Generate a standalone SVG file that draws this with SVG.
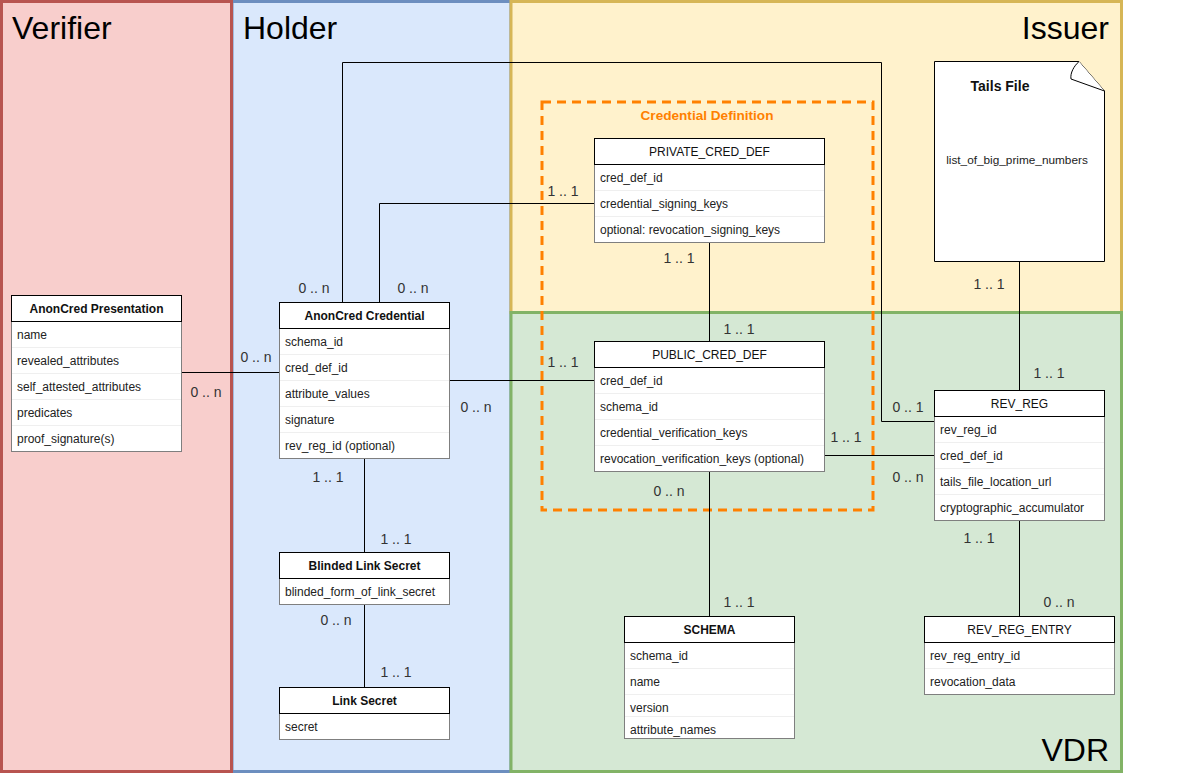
<svg xmlns="http://www.w3.org/2000/svg" width="1180" height="774" viewBox="0 0 1180 774">
<style>
text{font-family:"Liberation Sans",Arial,Helvetica,sans-serif}
.lt{font-size:32px;fill:#000}
.hdr{fill:#fff;stroke:#000;stroke-width:1}
.body{fill:#fff;stroke:#7f7f7f;stroke-width:1}
.sep{stroke:#efefef;stroke-width:1}
.ht{font-size:12px;font-weight:bold;fill:#111;text-anchor:middle}
.htn{font-size:12px;fill:#111;text-anchor:middle}
.rt{font-size:12px;fill:#222}
.conn{stroke:#000;stroke-width:1;fill:none}
.lbl{font-size:14px;fill:#333;text-anchor:middle}
</style>
<g id="lanes">
<rect x="232" y="1.5" width="279" height="770" fill="#dae8fc" stroke="#6c8ebf" stroke-width="3"/>
<rect x="1.5" y="1.5" width="230" height="770" fill="#f8cecc" stroke="#b85450" stroke-width="3"/>
<rect x="511" y="1.5" width="610.5" height="311" fill="#fff2cc" stroke="#d6b656" stroke-width="3"/>
<rect x="511" y="312.5" width="610.5" height="459" fill="#d5e8d4" stroke="#82b366" stroke-width="3"/>
<text class="lt" x="12" y="39">Verifier</text>
<text class="lt" x="243" y="39">Holder</text>
<text class="lt" x="1109" y="39" text-anchor="end">Issuer</text>
<text class="lt" x="1109" y="761" text-anchor="end">VDR</text>
</g>
<g id="credential-definition">
<rect x="542" y="102" width="331" height="408" fill="none" stroke="#ff8000" stroke-width="3" stroke-dasharray="9 6"/>
<text x="707" y="120" font-size="13.6" font-weight="bold" fill="#ff8000" text-anchor="middle">Credential Definition</text>
</g>
<g id="connectors">
<path class="conn" d="M181.5,372.5 H279.5"/>
<path class="conn" d="M342.5,302.5 V62.5 H881.5 V421.5 H934.5"/>
<path class="conn" d="M379.5,302.5 V203.5 H594.5"/>
<path class="conn" d="M449.5,380.5 H594.5"/>
<path class="conn" d="M709.5,242.5 V341.5"/>
<path class="conn" d="M824.5,455.5 H934.5"/>
<path class="conn" d="M709.5,471.5 V616.5"/>
<path class="conn" d="M1019.5,261.5 V390.5"/>
<path class="conn" d="M1019.5,520.5 V616.5"/>
<path class="conn" d="M364.5,458.5 V552.5"/>
<path class="conn" d="M364.5,604.5 V687.5"/>
<text class="lbl" x="314" y="293">0 .. n</text>
<text class="lbl" x="413" y="293">0 .. n</text>
<text class="lbl" x="256" y="362">0 .. n</text>
<text class="lbl" x="206" y="397">0 .. n</text>
<text class="lbl" x="563" y="196">1 .. 1</text>
<text class="lbl" x="679" y="263">1 .. 1</text>
<text class="lbl" x="739" y="334">1 .. 1</text>
<text class="lbl" x="563" y="367">1 .. 1</text>
<text class="lbl" x="846" y="442">1 .. 1</text>
<text class="lbl" x="669" y="496">0 .. n</text>
<text class="lbl" x="476" y="412">0 .. n</text>
<text class="lbl" x="908" y="412">0 .. 1</text>
<text class="lbl" x="908" y="482">0 .. n</text>
<text class="lbl" x="989" y="289">1 .. 1</text>
<text class="lbl" x="1049" y="378">1 .. 1</text>
<text class="lbl" x="979" y="543">1 .. 1</text>
<text class="lbl" x="1059" y="607">0 .. n</text>
<text class="lbl" x="739" y="607">1 .. 1</text>
<text class="lbl" x="328" y="482">1 .. 1</text>
<text class="lbl" x="396" y="544">1 .. 1</text>
<text class="lbl" x="336" y="625">0 .. n</text>
<text class="lbl" x="396" y="677">1 .. 1</text>
</g>
<g id="anoncred-presentation">
<rect class="body" x="11.5" y="321.5" width="170" height="130"/>
<line class="sep" x1="12" y1="347.5" x2="181" y2="347.5"/>
<line class="sep" x1="12" y1="373.5" x2="181" y2="373.5"/>
<line class="sep" x1="12" y1="399.5" x2="181" y2="399.5"/>
<line class="sep" x1="12" y1="425.5" x2="181" y2="425.5"/>
<rect class="hdr" x="11.5" y="295.5" width="170" height="26"/>
<text class="ht" x="96.5" y="313">AnonCred Presentation</text>
<text class="rt" x="17" y="339">name</text>
<text class="rt" x="17" y="365">revealed_attributes</text>
<text class="rt" x="17" y="391">self_attested_attributes</text>
<text class="rt" x="17" y="417">predicates</text>
<text class="rt" x="17" y="443">proof_signature(s)</text>
</g>
<g id="anoncred-credential">
<rect class="body" x="279.5" y="328.5" width="170" height="130"/>
<line class="sep" x1="280" y1="354.5" x2="449" y2="354.5"/>
<line class="sep" x1="280" y1="380.5" x2="449" y2="380.5"/>
<line class="sep" x1="280" y1="406.5" x2="449" y2="406.5"/>
<line class="sep" x1="280" y1="432.5" x2="449" y2="432.5"/>
<rect class="hdr" x="279.5" y="302.5" width="170" height="26"/>
<text class="ht" x="364.5" y="320">AnonCred Credential</text>
<text class="rt" x="285" y="346">schema_id</text>
<text class="rt" x="285" y="372">cred_def_id</text>
<text class="rt" x="285" y="398">attribute_values</text>
<text class="rt" x="285" y="424">signature</text>
<text class="rt" x="285" y="450">rev_reg_id (optional)</text>
</g>
<g id="private-cred-def">
<rect class="body" x="594.5" y="164.5" width="230" height="78"/>
<line class="sep" x1="595" y1="190.5" x2="824" y2="190.5"/>
<line class="sep" x1="595" y1="216.5" x2="824" y2="216.5"/>
<rect class="hdr" x="594.5" y="138.5" width="230" height="26"/>
<text class="htn" x="709.5" y="156">PRIVATE_CRED_DEF</text>
<text class="rt" x="600" y="182">cred_def_id</text>
<text class="rt" x="600" y="208">credential_signing_keys</text>
<text class="rt" x="600" y="234">optional: revocation_signing_keys</text>
</g>
<g id="public-cred-def">
<rect class="body" x="594.5" y="367.5" width="230" height="104"/>
<line class="sep" x1="595" y1="393.5" x2="824" y2="393.5"/>
<line class="sep" x1="595" y1="419.5" x2="824" y2="419.5"/>
<line class="sep" x1="595" y1="445.5" x2="824" y2="445.5"/>
<rect class="hdr" x="594.5" y="341.5" width="230" height="26"/>
<text class="htn" x="709.5" y="359">PUBLIC_CRED_DEF</text>
<text class="rt" x="600" y="385">cred_def_id</text>
<text class="rt" x="600" y="411">schema_id</text>
<text class="rt" x="600" y="437">credential_verification_keys</text>
<text class="rt" x="600" y="463">revocation_verification_keys (optional)</text>
</g>
<g id="tails-file">
<path d="M934.5,61.5 H1079 L1104.5,91 V261.5 H934.5 Z" fill="#fff" stroke="#000" stroke-width="1"/>
<path d="M1079,61.5 C1074,66 1070,73 1071,79 L1104.5,91" fill="#fff" stroke="#000" stroke-width="1"/>
<text x="1000" y="91" font-size="14" font-weight="bold" fill="#111" text-anchor="middle">Tails File</text>
<text x="1017" y="164" font-size="11.8" fill="#222" text-anchor="middle">list_of_big_prime_numbers</text>
</g>
<g id="rev-reg">
<rect class="body" x="934.5" y="416.5" width="170" height="104"/>
<line class="sep" x1="935" y1="442.5" x2="1104" y2="442.5"/>
<line class="sep" x1="935" y1="468.5" x2="1104" y2="468.5"/>
<line class="sep" x1="935" y1="494.5" x2="1104" y2="494.5"/>
<rect class="hdr" x="934.5" y="390.5" width="170" height="26"/>
<text class="htn" x="1019.5" y="408">REV_REG</text>
<text class="rt" x="940" y="434">rev_reg_id</text>
<text class="rt" x="940" y="460">cred_def_id</text>
<text class="rt" x="940" y="486">tails_file_location_url</text>
<text class="rt" x="940" y="512">cryptographic_accumulator</text>
</g>
<g id="blinded-link-secret">
<rect class="body" x="279.5" y="578.5" width="170" height="26"/>
<rect class="hdr" x="279.5" y="552.5" width="170" height="26"/>
<text class="ht" x="364.5" y="570">Blinded Link Secret</text>
<text class="rt" x="285" y="596">blinded_form_of_link_secret</text>
</g>
<g id="link-secret">
<rect class="body" x="279.5" y="713.5" width="170" height="26"/>
<rect class="hdr" x="279.5" y="687.5" width="170" height="26"/>
<text class="ht" x="364.5" y="705">Link Secret</text>
<text class="rt" x="285" y="731">secret</text>
</g>
<g id="schema">
<rect class="body" x="624.5" y="642.5" width="170" height="96"/>
<line class="sep" x1="625" y1="668.5" x2="794" y2="668.5"/>
<line class="sep" x1="625" y1="694.5" x2="794" y2="694.5"/>
<line class="sep" x1="625" y1="716.5" x2="794" y2="716.5"/>
<rect class="hdr" x="624.5" y="616.5" width="170" height="26"/>
<text class="ht" x="709.5" y="634">SCHEMA</text>
<text class="rt" x="630" y="660">schema_id</text>
<text class="rt" x="630" y="686">name</text>
<text class="rt" x="630" y="712">version</text>
<text class="rt" x="630" y="734">attribute_names</text>
</g>
<g id="rev-reg-entry">
<rect class="body" x="924.5" y="642.5" width="190" height="52"/>
<line class="sep" x1="925" y1="668.5" x2="1114" y2="668.5"/>
<rect class="hdr" x="924.5" y="616.5" width="190" height="26"/>
<text class="htn" x="1019.5" y="634">REV_REG_ENTRY</text>
<text class="rt" x="930" y="660">rev_reg_entry_id</text>
<text class="rt" x="930" y="686">revocation_data</text>
</g>
</svg>
